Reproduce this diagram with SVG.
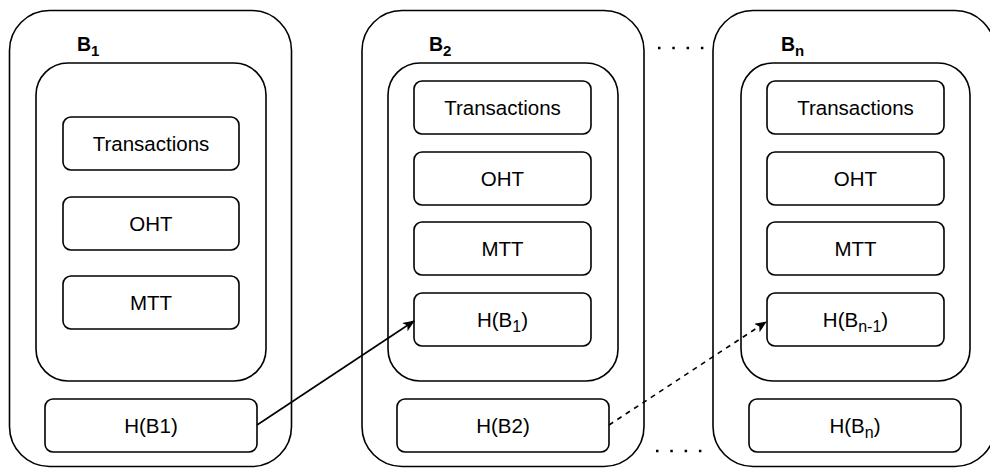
<svg xmlns="http://www.w3.org/2000/svg" width="990" height="468" viewBox="0 0 990 468">
<style>
.outer{fill:#fff;stroke:#000;stroke-width:1.6}
.inner{fill:#fff;stroke:#000;stroke-width:1.6}
.box{fill:#fff;stroke:#000;stroke-width:1.6}
.t{font-family:"Liberation Sans",Arial,sans-serif;font-size:20.5px;fill:#000;text-anchor:middle}
.lbl{font-family:"Liberation Sans",Arial,sans-serif;font-size:19.5px;font-weight:bold;fill:#000}
.conn{fill:none;stroke:#000;stroke-width:1.6}
.dots{fill:none;stroke:#000;stroke-width:2.5;stroke-dasharray:2.5 11.8}
</style>
<defs>
<marker id="arr" viewBox="0 0 12 10" refX="11" refY="5" markerWidth="12" markerHeight="10" markerUnits="userSpaceOnUse" orient="auto">
<path d="M0,0 L12,5 L0,10 L3,5 Z" fill="#000"/>
</marker>
</defs>
<rect width="990" height="468" fill="#fff"/>

<g id="block1">
<rect class="outer" x="9.5" y="10.5" width="282" height="456" rx="40"/>
<text class="lbl" x="77" y="51">B<tspan font-size="15" dy="5">1</tspan></text>
<rect class="inner" x="36" y="63" width="230" height="318" rx="32"/>
<g id="b1-tx"><rect class="box" x="63" y="117" width="176" height="53" rx="8"/><text class="t" x="151" y="150.5">Transactions</text></g>
<g id="b1-oht"><rect class="box" x="63" y="197" width="176" height="53" rx="8"/><text class="t" x="151" y="230.5">OHT</text></g>
<g id="b1-mtt"><rect class="box" x="63" y="276" width="176" height="53" rx="8"/><text class="t" x="151" y="309.5">MTT</text></g>
<g id="b1-h"><rect class="box" x="45" y="399" width="212" height="53" rx="8"/><text class="t" x="151" y="432.5">H(B1)</text></g>
</g>

<g id="block2">
<rect class="outer" x="362" y="10.5" width="282" height="456" rx="40"/>
<text class="lbl" x="429" y="51">B<tspan font-size="15" dy="5">2</tspan></text>
<rect class="inner" x="388" y="63" width="230" height="318" rx="32"/>
<g id="b2-tx"><rect class="box" x="414" y="81" width="177" height="53" rx="8"/><text class="t" x="502.5" y="114.5">Transactions</text></g>
<g id="b2-oht"><rect class="box" x="414" y="152" width="177" height="53" rx="8"/><text class="t" x="502.5" y="185.5">OHT</text></g>
<g id="b2-mtt"><rect class="box" x="414" y="222" width="177" height="53" rx="8"/><text class="t" x="502.5" y="255.5">MTT</text></g>
<g id="b2-prev"><rect class="box" x="414" y="293" width="177" height="53" rx="8"/><text class="t" x="502.5" y="326.5">H(B<tspan font-size="16" dy="5">1</tspan><tspan dy="-5">)</tspan></text></g>
<g id="b2-h"><rect class="box" x="397" y="399" width="212" height="53" rx="8"/><text class="t" x="503" y="432.5">H(B2)</text></g>
</g>

<g id="blockn">
<rect class="outer" x="713" y="10.5" width="282" height="456" rx="40"/>
<text class="lbl" x="781" y="51">B<tspan font-size="15" dy="5">n</tspan></text>
<rect class="inner" x="741" y="63" width="229" height="318" rx="32"/>
<g id="bn-tx"><rect class="box" x="767" y="81" width="177" height="53" rx="8"/><text class="t" x="855.5" y="114.5">Transactions</text></g>
<g id="bn-oht"><rect class="box" x="767" y="152" width="177" height="53" rx="8"/><text class="t" x="855.5" y="185.5">OHT</text></g>
<g id="bn-mtt"><rect class="box" x="767" y="222" width="177" height="53" rx="8"/><text class="t" x="855.5" y="255.5">MTT</text></g>
<g id="bn-prev"><rect class="box" x="767" y="293" width="177" height="53" rx="8"/><text class="t" x="855.5" y="326.5">H(B<tspan font-size="16" dy="5">n-1</tspan><tspan dy="-5">)</tspan></text></g>
<g id="bn-h"><rect class="box" x="749" y="399" width="212" height="53" rx="8"/><text class="t" x="855" y="432.5">H(B<tspan font-size="16" dy="5">n</tspan><tspan dy="-5">)</tspan></text></g>
</g>

<g id="connectors">
<line class="conn" x1="257" y1="425" x2="414" y2="321" marker-end="url(#arr)"/>
<line class="conn" x1="609" y1="425" x2="766" y2="322" stroke-dasharray="5 5" marker-end="url(#arr)"/>
<line class="dots" x1="658" y1="48" x2="704" y2="48"/>
<line class="dots" x1="656" y1="451" x2="702" y2="451"/>
</g>
</svg>
